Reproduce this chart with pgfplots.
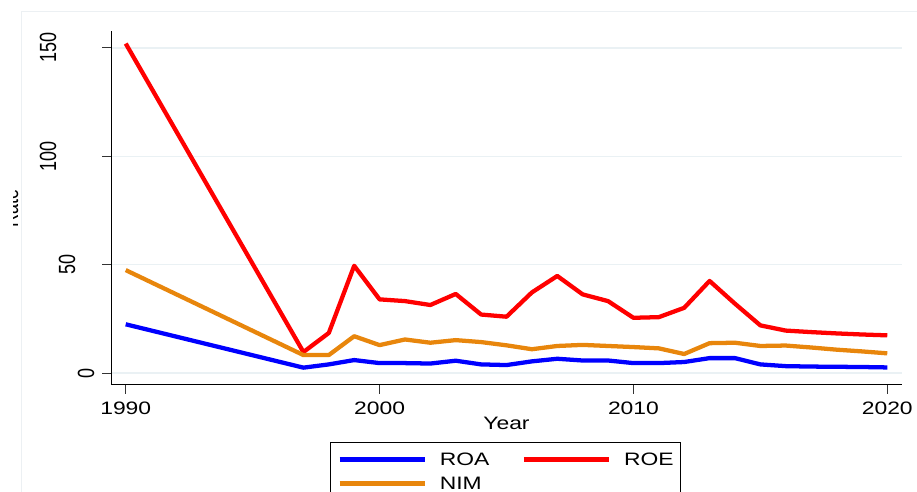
\documentclass[border=0pt]{standalone}
\usepackage{pgfplots}
\pgfplotsset{compat=1.18}
\usepackage{graphicx}
\usepackage{fontspec}
\setmainfont[FakeStretch=1.27]{Liberation Sans}
\newfontfamily\rotfont{Liberation Sans}
\definecolor{nimc}{RGB}{232,134,12}
\definecolor{gridc}{RGB}{234,241,244}
\definecolor{framec}{RGB}{236,240,243}
\newcommand{\rl}[2]{\raisebox{#1}{\scalebox{1}[1.3]{#2}}}
\newcommand{\lbl}{\fontsize{13.5}{16}\selectfont}
\begin{document}
\begin{tikzpicture}
\path[use as bounding box] (0,0) rectangle (687.75pt,369pt);
\clip (9.75pt,0) rectangle (687.75pt,369pt);
\draw[framec, line width=0.75pt] (16.1pt,-5pt) -- (16.1pt,360pt) -- (700pt,360pt);
\begin{axis}[
  at={(83.25pt,80.25pt)}, anchor=south west,
  scale only axis, width=593.25pt, height=265.5pt,
  xmin=1989.42, xmax=2020.58, ymin=-5.5, ymax=157.8,
  axis lines*=left,
  axis line style={black, line width=0.75pt},
  xtick={1990,2000,2010,2020}, xticklabels={1990,2000,2010,2020},
  ytick={0,50,100,150},
  yticklabels={{\rl{6pt}{0}},{\rl{20.25pt}{50}},{\rl{34.5pt}{100}},{\rl{34.5pt}{150}}},
  tick align=outside,
  major tick length=6.5pt,
  tick style={black!80, line width=0.75pt},
  ymajorgrids, grid style={gridc, line width=1.1pt},
  every axis plot/.append style={line width=3.2pt, line join=round},
  ticklabel style={font=\lbl},
  xticklabel style={anchor=north, inner sep=0pt, yshift=-6pt},
  yticklabel style={rotate=90, anchor=south, inner sep=0pt, font=\rotfont\lbl},
  xlabel={Year},
  xlabel style={at={(axis description cs:0.5,-0.0895)}, anchor=north, inner sep=0pt, font=\lbl},
  ylabel={\scalebox{1}[1.3]{Rate}},
  ylabel style={at={(axis description cs:-0.1169,0.5)}, anchor=south, inner sep=0pt, font=\rotfont\lbl},
  legend columns=2,
  legend cell align=left,
  legend style={at={(axis description cs:0.27686,-0.1602)}, anchor=north west,
    draw=black, line width=0.75pt, inner xsep=5.25pt, inner ysep=4pt,
    nodes={inner sep=0pt, text depth=0pt, minimum height=18pt},
    /tikz/column sep=0pt, font=\lbl},
  legend image code/.code={\draw[#1] (0pt,0pt) -- (63.75pt,0pt);},
]
\addplot[blue] coordinates {
(1990,22.5) (1997,2.5) (1998,4.0) (1999,6.0) (2000,4.6) (2001,4.6) (2002,4.4)
(2003,5.7) (2004,4.0) (2005,3.7) (2006,5.4) (2007,6.6) (2008,5.8) (2009,5.8)
(2010,4.6) (2011,4.6) (2012,5.1) (2013,6.9) (2014,6.9) (2015,4.0) (2016,3.2)
(2017,3.0) (2018,2.9) (2019,2.8) (2020,2.6)};
\addlegendentry{\makebox[71.25pt][l]{\hspace{9.75pt}ROA}}
\addplot[red] coordinates {
(1990,152) (1997,9.7) (1998,18.5) (1999,49.5) (2000,34) (2001,33.2) (2002,31.4)
(2003,36.5) (2004,27) (2005,26) (2006,37.2) (2007,44.8) (2008,36.3) (2009,33.2)
(2010,25.5) (2011,25.8) (2012,30.1) (2013,42.5) (2014,32) (2015,22) (2016,19.6)
(2017,18.9) (2018,18.3) (2019,17.8) (2020,17.4)};
\addlegendentry{\makebox[46.5pt][l]{\hspace{9.75pt}ROE}}
\addplot[nimc] coordinates {
(1990,47.5) (1997,8.3) (1998,8.3) (1999,17) (2000,12.9) (2001,15.5) (2002,14)
(2003,15.2) (2004,14.3) (2005,12.8) (2006,11) (2007,12.5) (2008,13) (2009,12.5)
(2010,12) (2011,11.4) (2012,8.8) (2013,13.8) (2014,14) (2015,12.5) (2016,12.7)
(2017,11.8) (2018,10.8) (2019,10) (2020,9.1)};
\addlegendentry{\makebox[71.25pt][l]{\hspace{9.75pt}NIM}}
\end{axis}
\end{tikzpicture}
\end{document}
